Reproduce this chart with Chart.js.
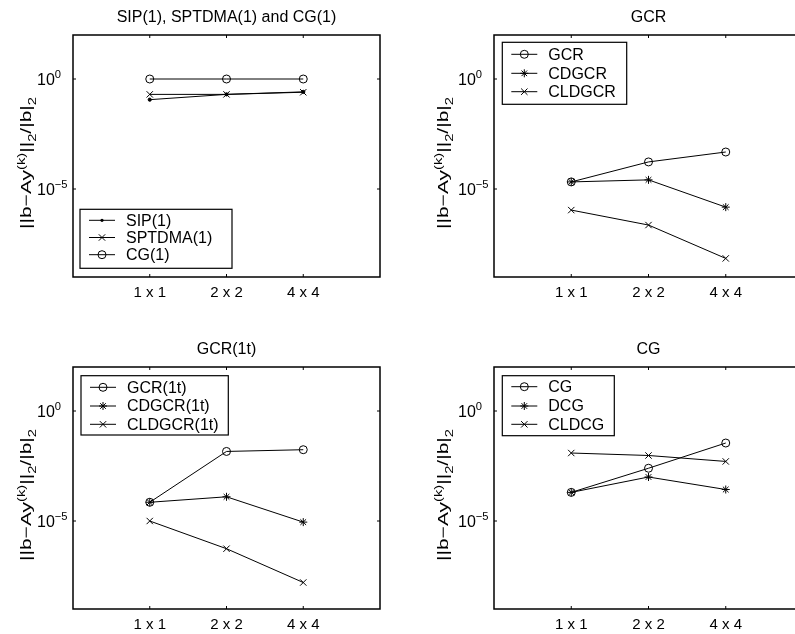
<!DOCTYPE html>
<html>
<head>
<meta charset="utf-8">
<title>Residual norms</title>
<script src="https://cdn.jsdelivr.net/npm/chart.js@4.4.1/dist/chart.umd.min.js"></script>
<style>
  html, body { margin: 0; padding: 0; background: #fff; }
  body { position: relative; width: 795px; height: 634px; overflow: hidden; }
  canvas { position: absolute; }
</style>
</head>
<body>
<canvas id="c1" width="400" height="317" style="left:0;top:0"></canvas>
<canvas id="c2" width="430" height="317" style="left:400px;top:0"></canvas>
<canvas id="c3" width="400" height="317" style="left:0;top:332px"></canvas>
<canvas id="c4" width="430" height="317" style="left:400px;top:332px"></canvas>
<script>
// grid sizes along the x axis
const gridLabels = ['1 x 1', '2 x 2', '4 x 4'];
const gridPos = [1, 2, 3];

// y axis ticks (log scale)
const yTicks = [1e0, 1e-5];
const yTickLabels = [['10', '0'], ['10', '\u22125']];

// SIP(1), SPTDMA(1) and CG(1)
const sip1 = [0.115, 0.2, 0.26];
const sptdma1 = [0.2, 0.2, 0.25];
const cg1 = [1, 1, 1];

// GCR family
const gcr = [2.1e-5, 1.7e-4, 4.8e-4];
const cdgcr = [2.1e-5, 2.6e-5, 1.5e-6];
const cldgcr = [1.1e-6, 2.3e-7, 7e-9];

// GCR(1t) family
const gcr1t = [7.1e-5, 1.45e-2, 1.74e-2];
const cdgcr1t = [7.1e-5, 1.26e-4, 8.9e-6];
const cldgcr1t = [1e-5, 5.5e-7, 1.6e-8];

// CG family
const cgRes = [2e-4, 2.5e-3, 3.5e-2];
const dcgRes = [2e-4, 1e-3, 2.7e-4];
const cldcgRes = [1.23e-2, 9.5e-3, 5.1e-3];

const fontFamily = "'Liberation Sans', Arial, Helvetica, sans-serif";

// ||b-Ay^(k)||_2/|b|_2
const yLabelParts = [
    { t: '||b\u2212Ay' }, { t: '(k)', s: 'sup' }, { t: '||' }, { t: '2', s: 'sub' },
    { t: '/|b|' }, { t: '2', s: 'sub' }
];

// marker type -> chart.js point options
const markerStyles = {
    dot: { pointStyle: 'circle', pointRadius: 1.6, pointBackgroundColor: '#000' },
    circle: { pointStyle: 'circle', pointRadius: 4, pointBackgroundColor: 'rgba(0,0,0,0)' },
    x: { pointStyle: 'crossRot', pointRadius: 4.5, pointBackgroundColor: '#000' },
    star: { pointStyle: 'star', pointRadius: 4, pointBackgroundColor: '#000' }
};

function richWidth(ctx, parts, size) {
    let w = 0;
    parts.forEach(p => {
        ctx.font = (p.s ? size * 0.7 : size) + 'px ' + fontFamily;
        w += ctx.measureText(p.t).width;
    });
    return w;
}

// text with super/subscripts; (x, y) is the vertical middle of the base text
function drawRich(ctx, parts, x, y, size, align, stretch) {
    const w = richWidth(ctx, parts, size);
    let cx = align === 'center' ? -w / 2 : 0;
    ctx.save();
    ctx.translate(x, y);
    ctx.scale(stretch, 1);
    ctx.textAlign = 'left';
    ctx.textBaseline = 'alphabetic';
    ctx.fillStyle = '#000';
    const base = size * 0.36;
    parts.forEach(p => {
        const fs = p.s ? size * 0.7 : size;
        ctx.font = fs + 'px ' + fontFamily;
        const dy = p.s === 'sup' ? -size * 0.45 : (p.s === 'sub' ? size * 0.3 : 0);
        ctx.fillText(p.t, cx, base + dy);
        cx += ctx.measureText(p.t).width;
    });
    ctx.restore();
}

function drawMarker(ctx, kind, x, y) {
    ctx.beginPath();
    if (kind === 'circle') {
        ctx.arc(x, y, 4, 0, Math.PI * 2);
        ctx.stroke();
    } else if (kind === 'dot') {
        ctx.arc(x, y, 1.6, 0, Math.PI * 2);
        ctx.fill();
    } else if (kind === 'x') {
        const r = 3.2;
        ctx.moveTo(x - r, y - r); ctx.lineTo(x + r, y + r);
        ctx.moveTo(x - r, y + r); ctx.lineTo(x + r, y - r);
        ctx.stroke();
    } else if (kind === 'star') {
        const r = 4, d = 2.8;
        ctx.moveTo(x - r, y); ctx.lineTo(x + r, y);
        ctx.moveTo(x, y - r); ctx.lineTo(x, y + r);
        ctx.moveTo(x - d, y - d); ctx.lineTo(x + d, y + d);
        ctx.moveTo(x - d, y + d); ctx.lineTo(x + d, y - d);
        ctx.stroke();
    }
}

// boxed axes, inward ticks, labels, title and legend
const matlabAxes = {
    id: 'matlabAxes',
    afterDraw(chart, args, opts) {
        const ctx = chart.ctx;
        const a = chart.chartArea;
        const xs = chart.scales.x;
        const ys = chart.scales.y;
        ctx.save();
        ctx.strokeStyle = '#000';
        ctx.fillStyle = '#000';

        // legend
        const lg = opts.box;
        const bx = a.left + lg.dx, by = a.top + lg.dy;
        ctx.fillStyle = '#fff';
        ctx.fillRect(bx, by, lg.w, lg.h);
        ctx.lineWidth = 1.2;
        ctx.strokeRect(bx, by, lg.w, lg.h);
        ctx.fillStyle = '#000';
        ctx.font = '16px ' + fontFamily;
        ctx.textAlign = 'left';
        ctx.textBaseline = 'middle';
        opts.series.forEach((s, i) => {
            const ry = by + lg.rows[i];
            ctx.lineWidth = 1;
            ctx.beginPath();
            ctx.moveTo(bx + 9, ry);
            ctx.lineTo(bx + 35, ry);
            ctx.stroke();
            drawMarker(ctx, s.marker, bx + 22, ry);
            ctx.fillText(s.label, bx + 46, ry + 1);
        });

        // box
        ctx.lineWidth = 1.5;
        ctx.strokeRect(a.left, a.top, a.right - a.left, a.bottom - a.top);

        // inward ticks
        ctx.lineWidth = 1;
        ctx.beginPath();
        gridPos.forEach(v => {
            const px = xs.getPixelForValue(v);
            ctx.moveTo(px, a.top); ctx.lineTo(px, a.top + 3);
            ctx.moveTo(px, a.bottom); ctx.lineTo(px, a.bottom - 3);
        });
        yTicks.forEach(v => {
            const py = ys.getPixelForValue(v);
            ctx.moveTo(a.left, py); ctx.lineTo(a.left + 3, py);
            ctx.moveTo(a.right, py); ctx.lineTo(a.right - 3, py);
        });
        ctx.stroke();

        // x tick labels
        ctx.font = '15px ' + fontFamily;
        ctx.textAlign = 'center';
        ctx.textBaseline = 'middle';
        gridPos.forEach((v, i) => {
            ctx.fillText(gridLabels[i], xs.getPixelForValue(v), a.bottom + 16);
        });

        // y tick labels
        yTicks.forEach((v, i) => {
            const parts = [{ t: yTickLabels[i][0] }, { t: yTickLabels[i][1], s: 'sup' }];
            drawRich(ctx, parts, a.left - 36, ys.getPixelForValue(v), 16, 'left', 1);
        });

        // title
        ctx.font = '16px ' + fontFamily;
        ctx.textAlign = 'center';
        ctx.textBaseline = 'middle';
        ctx.fillText(opts.title, (a.left + a.right) / 2, a.top - 17.5);

        // y axis label
        const size = 15;
        const stretch = 132 / richWidth(ctx, yLabelParts, size);
        ctx.save();
        ctx.translate(a.left - opts.labelGap, (a.top + a.bottom) / 2 + 7);
        ctx.rotate(-Math.PI / 2);
        drawRich(ctx, yLabelParts, 0, 0, size, 'center', stretch);
        ctx.restore();

        ctx.restore();
    }
};

function makePanel(p) {
    const datasets = p.series.map(s => Object.assign({
        label: s.label,
        data: gridPos.map((x, i) => ({ x: x, y: s.values[i] })),
        borderColor: '#000',
        borderWidth: 1,
        pointBorderColor: '#000',
        pointBorderWidth: 1,
        tension: 0,
        fill: false
    }, markerStyles[s.marker]));

    return new Chart(document.getElementById(p.id), {
        type: 'line',
        data: { datasets: datasets },
        options: {
            responsive: false,
            animation: false,
            devicePixelRatio: 1,
            layout: { padding: { left: p.left, top: 35, right: p.right, bottom: 40 } },
            plugins: {
                legend: { display: false },
                tooltip: { enabled: false },
                matlabAxes: { title: p.title, series: p.series, box: p.box, labelGap: p.labelGap }
            },
            scales: {
                x: { type: 'linear', min: 0, max: 4, display: false },
                y: { type: 'logarithmic', min: 1e-9, max: 1e2, display: false }
            }
        },
        plugins: [matlabAxes]
    });
}

const panels = [
    {
        id: 'c1', title: 'SIP(1), SPTDMA(1) and CG(1)', left: 73, right: 20, labelGap: 47,
        series: [
            { label: 'SIP(1)', values: sip1, marker: 'dot' },
            { label: 'SPTDMA(1)', values: sptdma1, marker: 'x' },
            { label: 'CG(1)', values: cg1, marker: 'circle' }
        ],
        box: { dx: 7, dy: 174.3, w: 152, h: 59, rows: [11, 28.2, 45.4] }
    },
    {
        id: 'c2', title: 'GCR', left: 94, right: 27, labelGap: 51,
        series: [
            { label: 'GCR', values: gcr, marker: 'circle' },
            { label: 'CDGCR', values: cdgcr, marker: 'star' },
            { label: 'CLDGCR', values: cldgcr, marker: 'x' }
        ],
        box: { dx: 8.3, dy: 7.3, w: 124.4, h: 62, rows: [12, 31, 49.4] }
    },
    {
        id: 'c3', title: 'GCR(1t)', left: 73, right: 20, labelGap: 47,
        series: [
            { label: 'GCR(1t)', values: gcr1t, marker: 'circle' },
            { label: 'CDGCR(1t)', values: cdgcr1t, marker: 'star' },
            { label: 'CLDGCR(1t)', values: cldgcr1t, marker: 'x' }
        ],
        box: { dx: 8, dy: 8.7, w: 147.3, h: 59.3, rows: [11.6, 30.3, 48.6] }
    },
    {
        id: 'c4', title: 'CG', left: 94, right: 27, labelGap: 51,
        series: [
            { label: 'CG', values: cgRes, marker: 'circle' },
            { label: 'DCG', values: dcgRes, marker: 'star' },
            { label: 'CLDCG', values: cldcgRes, marker: 'x' }
        ],
        box: { dx: 8.3, dy: 8.7, w: 112, h: 60, rows: [11, 30.3, 48.6] }
    }
];

panels.forEach(makePanel);
</script>
</body>
</html>
